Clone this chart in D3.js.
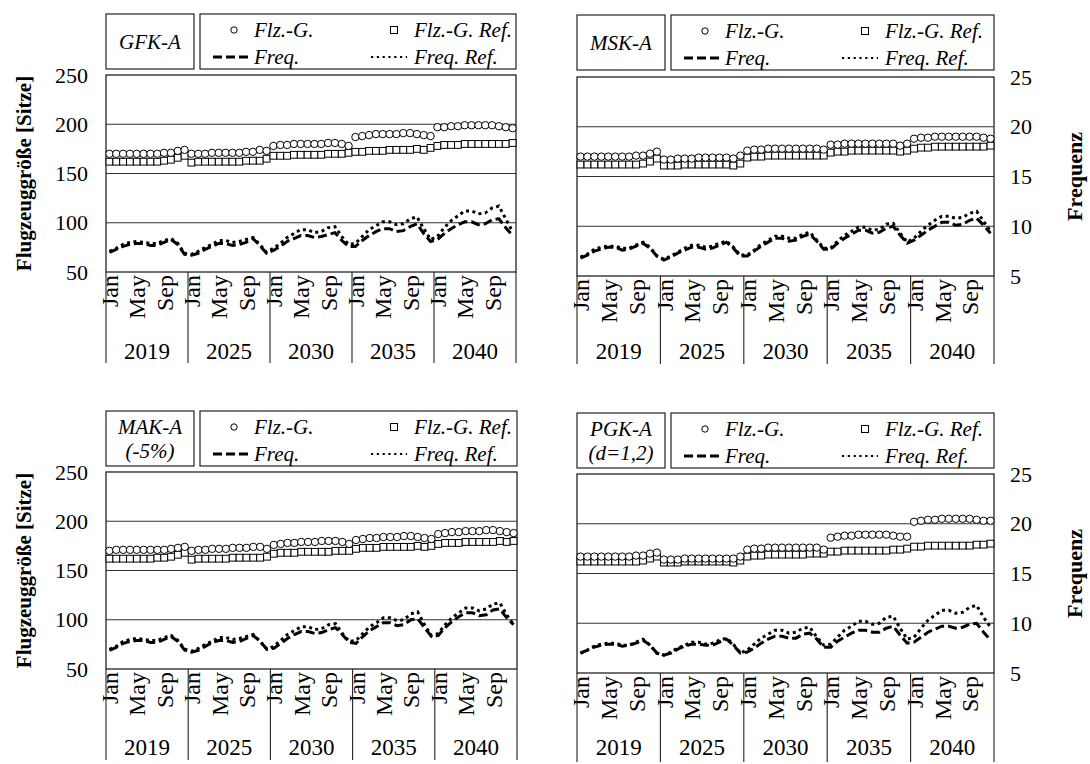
<!DOCTYPE html>
<html>
<head>
<meta charset="utf-8">
<script src="https://cdn.jsdelivr.net/npm/d3@7"></script>
<style>
  body { margin: 0; background: #fff; }
  svg { display: block; }
  text { font-family: "Liberation Serif", "Times New Roman", serif; fill: #000; }
</style>
</head>
<body>
<svg id="chart" width="1090" height="764"></svg>
<script>
// ---- categories and ticks ----
const years = ["2019", "2025", "2030", "2035", "2040"];
const monthNames = ["Jan", "Feb", "Mar", "Apr", "May", "Jun", "Jul", "Aug", "Sep", "Oct", "Nov", "Dec"];
const monthTicks = ["Jan", "May", "Sep"];
const sizeTicks = [50, 100, 150, 200, 250];
const freqTicks = [5, 10, 15, 20, 25];
const legendLabels = ["Flz.-G.", "Flz.-G. Ref.", "Freq.", "Freq. Ref."];

// ---- GFK-A ----
const gfkSize = [
  170,170,170,170,170,170,170,170,171,171,173,174,
  170,170,170,171,171,171,171,171,172,172,174,173,
  178,179,179,180,180,180,180,180,181,181,180,178,
  187,188,189,190,190,190,190,191,191,190,189,188,
  197,197,198,198,199,199,199,199,199,198,197,196];
const gfkSizeRef = [
  162,162,162,162,162,162,162,162,163,164,166,168,
  161,162,162,162,162,162,162,162,163,163,163,165,
  168,168,168,169,169,169,169,169,170,170,170,171,
  172,172,173,173,173,174,174,174,174,175,174,176,
  178,179,179,179,180,180,180,180,180,180,180,181];
const gfkFreq = [
  7.0,7.3,7.6,7.8,7.9,7.9,7.7,7.7,8.0,8.3,7.8,6.8,
  6.7,6.9,7.3,7.6,7.9,7.9,7.7,7.8,8.0,8.4,7.7,6.9,
  7.2,7.6,8.1,8.4,8.7,8.7,8.5,8.6,8.8,9.0,8.2,7.6,
  7.6,8.2,8.7,9.1,9.4,9.4,9.1,9.2,9.6,9.9,8.9,8.1,
  8.3,8.9,9.4,9.8,10.1,10.1,9.8,9.9,10.3,10.4,9.5,8.7];
const gfkFreqRef = [
  7.1,7.4,7.8,8.0,8.1,8.0,7.9,7.9,8.2,8.4,7.9,6.9,
  6.8,7.1,7.5,7.8,8.2,8.2,8.0,8.1,8.3,8.5,7.8,7.0,
  7.4,7.9,8.5,8.9,9.3,9.3,9.0,9.1,9.5,9.6,8.6,7.8,
  7.9,8.6,9.3,9.7,10.1,10.1,9.8,9.9,10.4,10.6,9.4,8.3,
  8.6,9.5,10.2,10.7,11.2,11.2,10.9,11.0,11.5,11.7,10.4,9.1];

// ---- MSK-A ----
const mskSize = [
  170,170,170,170,170,170,170,170,171,171,173,175,
  167,167,168,168,168,169,169,169,169,169,168,171,
  176,177,177,178,178,178,178,178,178,178,178,177,
  182,182,183,183,183,183,183,183,183,183,181,183,
  188,189,189,190,190,190,190,190,190,190,189,188];
const mskSizeRef = [
  162,162,162,162,162,162,162,162,162,163,165,168,
  161,161,161,162,162,162,162,162,162,162,161,163,
  169,170,170,171,171,171,171,171,171,171,171,171,
  174,175,175,176,176,176,176,176,176,176,175,176,
  178,179,179,180,180,180,180,180,180,180,180,181];
const mskFreq = [
  6.8,7.1,7.5,7.7,7.9,7.9,7.6,7.7,8.0,8.3,7.8,7.0,
  6.6,6.9,7.3,7.6,7.9,7.9,7.7,7.8,8.1,8.4,7.8,7.0,
  7.0,7.5,8.0,8.4,8.8,8.8,8.5,8.6,9.0,9.2,8.5,7.7,
  7.7,8.3,8.8,9.2,9.6,9.6,9.3,9.4,9.8,10.0,9.1,8.3,
  8.6,9.1,9.6,10.0,10.4,10.4,10.1,10.2,10.6,10.8,10.1,9.3];
const mskFreqRef = [
  6.9,7.2,7.7,7.9,8.0,8.0,7.8,7.8,8.1,8.4,7.9,7.0,
  6.7,7.0,7.4,7.8,8.1,8.1,7.9,8.0,8.3,8.5,7.9,7.1,
  7.1,7.6,8.2,8.6,9.0,9.0,8.8,8.8,9.2,9.4,8.6,7.8,
  7.8,8.5,9.1,9.5,9.9,9.9,9.6,9.7,10.2,10.3,9.3,8.4,
  8.8,9.5,10.1,10.6,11.0,11.0,10.8,10.9,11.3,11.5,10.5,9.5];

// ---- MAK-A (-5%) ----
const makSize = [
  170,171,171,171,171,171,171,171,171,172,173,174,
  170,171,171,172,172,172,173,173,173,174,174,172,
  176,177,178,178,179,179,179,180,180,180,179,177,
  181,182,183,183,184,184,184,185,185,184,183,182,
  187,188,189,189,190,190,190,191,191,190,189,188];
const makSizeRef = [
  162,162,162,162,162,162,162,163,163,164,166,168,
  161,162,162,162,162,162,163,163,163,163,163,164,
  167,168,168,168,169,169,169,169,169,170,170,170,
  172,173,173,173,174,174,174,174,174,175,174,175,
  177,178,178,178,179,179,179,179,179,180,179,180];
const makFreq = [
  6.9,7.2,7.6,7.8,7.9,7.9,7.7,7.7,8.0,8.3,7.8,6.9,
  6.7,6.9,7.3,7.7,7.9,7.9,7.7,7.8,8.1,8.4,7.8,7.0,
  7.1,7.6,8.1,8.5,8.8,8.8,8.6,8.7,9.0,9.2,8.5,7.7,
  7.6,8.3,8.9,9.3,9.7,9.7,9.4,9.5,10.0,10.1,9.2,8.3,
  8.4,9.2,9.8,10.3,10.7,10.7,10.4,10.5,11.0,11.1,10.2,9.5];
const makFreqRef = [
  7.0,7.3,7.8,8.0,8.1,8.0,7.9,7.9,8.2,8.4,7.9,7.0,
  6.8,7.1,7.5,7.8,8.2,8.2,8.0,8.1,8.3,8.5,7.8,7.0,
  7.3,7.9,8.5,8.9,9.3,9.3,9.0,9.1,9.5,9.6,8.6,7.8,
  7.9,8.6,9.3,9.7,10.2,10.2,9.9,10.0,10.6,10.8,9.5,8.4,
  8.6,9.5,10.2,10.7,11.2,11.2,10.9,11.1,11.6,11.7,10.5,9.5];

// ---- PGK-A (d=1,2) ----
const pgkSize = [
  167,167,167,167,167,167,167,167,168,168,170,171,
  164,164,164,165,165,165,165,165,165,165,165,167,
  174,175,175,176,176,176,176,176,176,176,176,174,
  186,187,188,188,189,189,189,189,189,188,187,187,
  202,203,204,204,205,205,205,205,205,204,203,203];
const pgkSizeRef = [
  162,162,162,162,162,162,162,162,162,163,165,167,
  161,161,161,162,162,162,162,162,162,162,161,163,
  167,168,168,169,169,169,169,169,169,170,170,170,
  172,172,173,173,173,173,173,173,173,174,174,175,
  177,177,178,178,178,178,178,178,178,179,179,180];
const pgkFreq = [
  7.0,7.3,7.6,7.8,7.9,7.9,7.7,7.8,8.0,8.3,7.8,7.0,
  6.8,7.0,7.4,7.7,7.9,7.9,7.8,7.8,8.1,8.4,7.8,7.0,
  7.1,7.5,8.0,8.4,8.7,8.7,8.5,8.5,8.9,9.0,8.4,7.6,
  7.6,8.2,8.6,9.0,9.3,9.3,9.1,9.1,9.5,9.7,8.8,8.0,
  8.1,8.6,9.1,9.4,9.7,9.7,9.5,9.6,9.9,10.0,9.1,8.3];
const pgkFreqRef = [
  7.0,7.3,7.7,7.9,8.0,8.0,7.8,7.8,8.1,8.4,7.8,7.0,
  6.8,7.1,7.5,7.8,8.1,8.1,7.9,8.0,8.3,8.5,7.9,7.0,
  7.3,7.9,8.5,8.9,9.3,9.3,9.0,9.1,9.5,9.6,8.6,7.8,
  7.9,8.6,9.3,9.7,10.2,10.2,9.9,10.0,10.6,10.7,9.5,8.4,
  8.6,9.5,10.3,10.8,11.3,11.3,11.0,11.1,11.6,11.8,10.6,9.6];

// ---- period keys: one per month of each scenario year ----
const periods = [];
years.forEach(y => monthNames.forEach(m => periods.push({ year: y, month: m, key: y + "-" + m })));
const keys = periods.map(p => p.key);

// ---- panel layout ----
const panels = [
  { title: ["GFK-A"], size: gfkSize, sizeRef: gfkSizeRef, freq: gfkFreq, freqRef: gfkFreqRef,
    x0: 106, x1: 516, top: 75, bottom: 272, legendTop: 14, legendBottom: 69, yearY: 359, sepEnd: 363, side: "left" },
  { title: ["MSK-A"], size: mskSize, sizeRef: mskSizeRef, freq: mskFreq, freqRef: mskFreqRef,
    x0: 577, x1: 994, top: 77, bottom: 276, legendTop: 15, legendBottom: 70, yearY: 359, sepEnd: 364, side: "right" },
  { title: ["MAK-A", "(-5%)"], size: makSize, sizeRef: makSizeRef, freq: makFreq, freqRef: makFreqRef,
    x0: 106, x1: 517, top: 472, bottom: 669, legendTop: 411, legendBottom: 466, yearY: 755, sepEnd: 760, side: "left" },
  { title: ["PGK-A", "(d=1,2)"], size: pgkSize, sizeRef: pgkSizeRef, freq: pgkFreq, freqRef: pgkFreqRef,
    x0: 577, x1: 994, top: 474, bottom: 673, legendTop: 413, legendBottom: 468, yearY: 755, sepEnd: 762, side: "right" }
];

const svg = d3.select("#chart");
const DASH = "9,4", DOT = "3,3.5";

panels.forEach(p => {
  const g = svg.append("g");
  const x = d3.scaleBand().domain(keys).range([p.x0, p.x1]).padding(0);
  const ySize = d3.scaleLinear().domain([50, 250]).range([p.bottom, p.top]);
  const yFreq = d3.scaleLinear().domain([5, 25]).range([p.bottom, p.top]);
  const cx = k => x(k) + x.bandwidth() / 2;

  // gridlines
  g.append("g").selectAll("line").data(sizeTicks.slice(1, -1)).join("line")
    .attr("x1", p.x0).attr("x2", p.x1)
    .attr("y1", d => ySize(d)).attr("y2", d => ySize(d))
    .attr("stroke", "#333").attr("stroke-width", 1.1);

  // plot frame
  g.append("rect").attr("x", p.x0).attr("y", p.top)
    .attr("width", p.x1 - p.x0).attr("height", p.bottom - p.top)
    .attr("fill", "none").attr("stroke", "#222").attr("stroke-width", 1.3);

  // frequency lines
  const freqLine = d3.line().x((d, i) => cx(keys[i])).y(d => yFreq(d));
  g.append("path").datum(p.freqRef).attr("d", freqLine)
    .attr("fill", "none").attr("stroke", "#000").attr("stroke-width", 3)
    .attr("stroke-dasharray", DOT);
  g.append("path").datum(p.freq).attr("d", freqLine)
    .attr("fill", "none").attr("stroke", "#000").attr("stroke-width", 3)
    .attr("stroke-dasharray", DASH);

  // aircraft size markers
  g.append("g").selectAll("rect").data(p.sizeRef).join("rect")
    .attr("x", (d, i) => cx(keys[i]) - 3.4).attr("y", d => ySize(d) - 3.4)
    .attr("width", 6.8).attr("height", 6.8)
    .attr("fill", "#fff").attr("stroke", "#000").attr("stroke-width", 1);
  g.append("g").selectAll("circle").data(p.size).join("circle")
    .attr("cx", (d, i) => cx(keys[i])).attr("cy", d => ySize(d)).attr("r", 3.7)
    .attr("fill", "#fff").attr("stroke", "#000").attr("stroke-width", 1);

  // month axis
  const xAxis = d3.axisBottom(x)
    .tickValues(periods.filter(d => monthTicks.includes(d.month)).map(d => d.key))
    .tickFormat(k => k.split("-")[1]).tickSize(0);
  const ax = g.append("g").attr("transform", `translate(0,${p.bottom})`).call(xAxis);
  ax.select(".domain").remove();
  ax.selectAll("text")
    .attr("transform", "rotate(-90)").attr("x", -3).attr("y", 0).attr("dy", "0.36em")
    .style("text-anchor", "end").style("font-size", "24px")
    .style("font-family", "'Liberation Serif', serif");

  // year groups
  const groupEdges = years.map(y => x(y + "-Jan")).concat([p.x1]);
  g.append("g").selectAll("line").data(groupEdges).join("line")
    .attr("x1", d => d).attr("x2", d => d)
    .attr("y1", p.bottom).attr("y2", p.sepEnd)
    .attr("stroke", "#222").attr("stroke-width", 1.1);
  g.append("g").selectAll("text").data(years).join("text")
    .attr("x", (d, i) => (groupEdges[i] + groupEdges[i + 1]) / 2)
    .attr("y", p.yearY)
    .attr("text-anchor", "middle").style("font-size", "23px").text(d => d);

  // value axis
  if (p.side === "left") {
    const ay = g.append("g").attr("transform", `translate(${p.x0},0)`)
      .call(d3.axisLeft(ySize).tickValues(sizeTicks).tickSize(0).tickPadding(18));
    ay.select(".domain").remove();
    ay.selectAll("text").style("font-size", "22px").style("font-family", "'Liberation Serif', serif");
    g.append("text")
      .attr("transform", `translate(31,${(p.top + p.bottom) / 2}) rotate(-90)`)
      .attr("text-anchor", "middle").style("font-size", "21px").style("font-weight", "bold")
      .text("Flugzeuggröße [Sitze]");
  } else {
    const ay = g.append("g").attr("transform", `translate(${p.x1},0)`)
      .call(d3.axisRight(yFreq).tickValues(freqTicks).tickSize(0).tickPadding(16));
    ay.select(".domain").remove();
    ay.selectAll("text").style("font-size", "22px").style("font-family", "'Liberation Serif', serif");
    g.append("text")
      .attr("transform", `translate(1082,${(p.top + p.bottom) / 2}) rotate(-90)`)
      .attr("text-anchor", "middle").style("font-size", "22px").style("font-weight", "bold")
      .text("Frequenz");
  }

  // scenario title box
  const tbx1 = p.x0 + 88;
  g.append("rect").attr("x", p.x0).attr("y", p.legendTop)
    .attr("width", tbx1 - p.x0).attr("height", p.legendBottom - p.legendTop)
    .attr("fill", "none").attr("stroke", "#222").attr("stroke-width", 1.2);
  const tcy = (p.legendTop + p.legendBottom) / 2;
  const tLines = p.title.length;
  g.append("g").selectAll("text").data(p.title).join("text")
    .attr("x", (p.x0 + tbx1) / 2)
    .attr("y", (d, i) => tcy + (i - (tLines - 1) / 2) * 24)
    .attr("dy", "0.35em").attr("text-anchor", "middle")
    .style("font-size", "21px").style("font-style", "italic").text(d => d);

  // legend box
  const lx = tbx1 + 6;
  g.append("rect").attr("x", lx).attr("y", p.legendTop)
    .attr("width", p.x1 - lx).attr("height", p.legendBottom - p.legendTop)
    .attr("fill", "none").attr("stroke", "#222").attr("stroke-width", 1.2);
  const r1 = p.legendTop + 16, r2 = p.legendTop + 43;
  const c1 = lx + 54, c2 = lx + 214;
  g.append("circle").attr("cx", c1 - 20).attr("cy", r1).attr("r", 3.2)
    .attr("fill", "#fff").attr("stroke", "#000").attr("stroke-width", 1);
  g.append("rect").attr("x", c2 - 23.5).attr("y", r1 - 3.5).attr("width", 7).attr("height", 7)
    .attr("fill", "#fff").attr("stroke", "#000").attr("stroke-width", 1);
  g.append("line").attr("x1", c1 - 41).attr("x2", c1 - 6).attr("y1", r2).attr("y2", r2)
    .attr("stroke", "#000").attr("stroke-width", 3).attr("stroke-dasharray", DASH);
  g.append("line").attr("x1", c2 - 43).attr("x2", c2 - 7).attr("y1", r2).attr("y2", r2)
    .attr("stroke", "#000").attr("stroke-width", 2.2).attr("stroke-dasharray", "2.2,3.6");
  const legendPos = [[c1, r1], [c2, r1], [c1, r2], [c2, r2]];
  g.append("g").selectAll("text").data(legendLabels).join("text")
    .attr("x", (d, i) => legendPos[i][0]).attr("y", (d, i) => legendPos[i][1])
    .attr("dy", "0.33em").style("font-size", "21px").style("font-style", "italic")
    .text(d => d);
});
</script>
</body>
</html>
